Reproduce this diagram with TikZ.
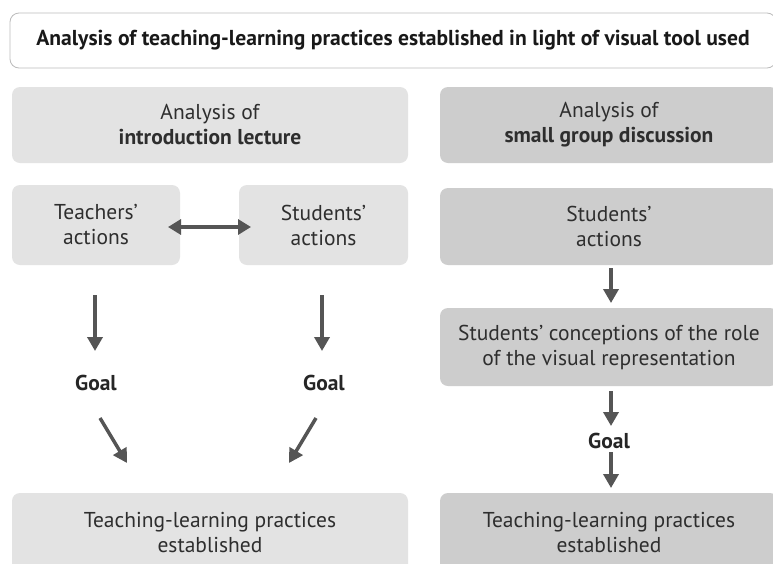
\documentclass[tikz,border=0pt]{standalone}
\usepackage{fontspec}
\setmainfont{PT Sans}
\usetikzlibrary{arrows.meta}
\definecolor{lightbox}{HTML}{E3E3E3}
\definecolor{darkbox}{HTML}{CDCDCD}
\definecolor{arrowgray}{HTML}{555555}
\definecolor{txt}{HTML}{2E2E2E}
\definecolor{frame}{HTML}{BBBBBB}
\tikzset{
  box/.style={rectangle, rounded corners=8pt, inner sep=0pt, outer sep=0pt, align=center,
    text=txt, font=\fontsize{21.5}{25}\selectfont},
  lbox/.style={box, fill=lightbox},
  dbox/.style={box, fill=darkbox},
  goallabel/.style={font=\fontsize{21.5}{25}\selectfont\bfseries, text=black!85, inner sep=0pt},
  arr/.style={draw=arrowgray, line width=3.5pt, -{Triangle[width=15pt,length=14pt]}},
  darr/.style={draw=arrowgray, line width=3.5pt, {Triangle[width=15pt,length=13pt]}-{Triangle[width=15pt,length=13pt]}}
}
\begin{document}
\begin{tikzpicture}[x=1pt,y=-1pt]
\useasboundingbox (0,0) rectangle (773,563);
\clip (0,0) rectangle (773,563);
\fill[white] (0,0) rectangle (773,563);

% title
\node[draw=frame, line width=0.8pt, fill=white, rounded corners=9pt, minimum width=766pt, minimum height=55pt,
  font=\fontsize{21.6}{25}\selectfont\bfseries, text=black!90] (title) at (393,40.5)
  {Analysis of teaching-learning practices established in light of visual tool used};

% left column
\node[lbox, minimum width=396pt, minimum height=76pt] (lhead) at (210,125)
  {Analysis of\\\textbf{introduction lecture}};
\node[lbox, minimum width=168pt, minimum height=80pt] (tact) at (96,225)
  {Teachers'\\actions};
\node[lbox, minimum width=169pt, minimum height=80pt] (sactl) at (323.5,225)
  {Students'\\actions};
\node[goallabel] (goal1) at (96,383) {Goal};
\node[goallabel] (goal2) at (324,383) {Goal};
\node[lbox, minimum width=396pt, minimum height=80pt] (lbot) at (210,533)
  {Teaching-learning practices\\established};

% right column
\node[dbox, minimum width=338pt, minimum height=76pt] (rhead) at (609,125)
  {Analysis of\\\textbf{small group discussion}};
\node[dbox, minimum width=338pt, minimum height=77pt] (sactr) at (609,226.5)
  {Students'\\actions};
\node[dbox, minimum width=338pt, minimum height=78pt] (conc) at (609,347)
  {Students' conceptions of the role\\of the visual representation};
\node[goallabel] (goal3) at (609,441) {Goal};
\node[dbox, minimum width=338pt, minimum height=80pt] (rbot) at (609,533)
  {Teaching-learning practices\\established};

% arrow end points
\coordinate (a1s) at (95,295);  \coordinate (a1e) at (95,351);
\coordinate (a2s) at (322,295); \coordinate (a2e) at (322,351);
\coordinate (a3s) at (100,418); \coordinate (a3e) at (127,463);
\coordinate (a4s) at (316,418); \coordinate (a4e) at (289,463);
\coordinate (a5s) at (611,268); \coordinate (a5e) at (611,303);
\coordinate (a6s) at (611,391); \coordinate (a6e) at (611,426);
\coordinate (a7s) at (611,452); \coordinate (a7e) at (611,488);
\coordinate (dls) at (168,227); \coordinate (dle) at (251,227);

\draw[darr] (dls) -- (dle);
\draw[arr] (a1s) -- (a1e);
\draw[arr] (a2s) -- (a2e);
\draw[arr] (a3s) -- (a3e);
\draw[arr] (a4s) -- (a4e);
\draw[arr] (a5s) -- (a5e);
\draw[arr] (a6s) -- (a6e);
\draw[arr] (a7s) -- (a7e);
\end{tikzpicture}
\end{document}
